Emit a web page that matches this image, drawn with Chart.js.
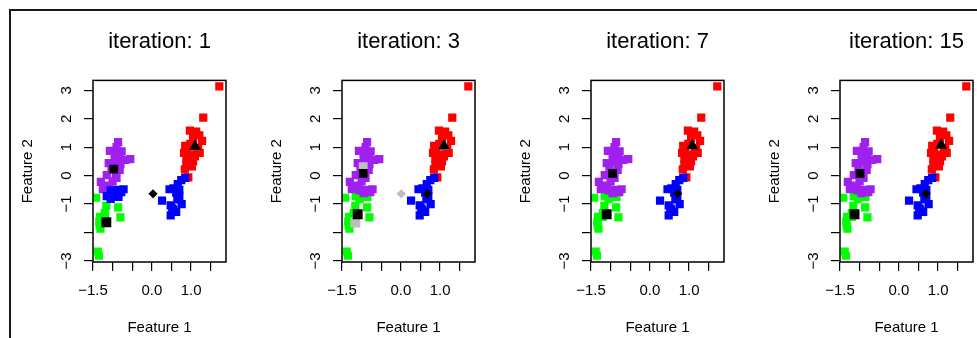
<!DOCTYPE html>
<html>
<head>
<meta charset="utf-8">
<script src="https://cdn.jsdelivr.net/npm/chart.js@4.4.1/dist/chart.umd.min.js"></script>
<style>
    html, body { margin: 0; padding: 0; background: #fff; overflow: hidden; width: 977px; height: 338px; }
    #frame { position: absolute; left: 9px; top: 9px; width: 1000px; height: 400px; border: 2px solid #1a1a1a; }
    .panel { position: absolute; top: 0; width: 249px; height: 338px; }
</style>
</head>
<body>
<div id="frame"></div>
<div class="panel" style="left:0px"><canvas id="c0" width="249" height="338"></canvas></div>
<div class="panel" style="left:249px"><canvas id="c1" width="249" height="338"></canvas></div>
<div class="panel" style="left:498px"><canvas id="c2" width="249" height="338"></canvas></div>
<div class="panel" style="left:747px"><canvas id="c3" width="249" height="338"></canvas></div>
<script>
// 패널 제목에 쓰이는 반복 횟수
const iterations = [1, 3, 7, 15];

// 데이터 점 좌표 (모든 패널 공통)
const featureX = [
    // red group
    1.72, 1.31, 0.97, 1.13, 1.21, 1.28, 1.05, 0.85, 0.98, 1.18, 1.22, 0.82, 0.96, 1.10, 0.88, 1.05, 0.92, 1.02, 0.84, 0.88, 0.93, 1.15, 0.90,
    // right blue group
    0.85, 0.75, 0.66, 0.55, 0.45, 0.70, 0.62, 0.70, 0.65, 0.76, 0.26, 0.48, 0.55, 0.62, 0.48, 0.52,
    // purple group
    -0.86, -0.90, -1.07, -0.77, -0.95, -0.82, -0.55, -0.68, -0.94, -1.10, -0.80, -0.82, -1.03, -0.92, -1.15, -0.90, -1.00, -1.30, -1.18, -1.25, -1.08,
    // lower left (blue at iteration 1)
    -0.72, -0.88, -0.78, -1.05, -1.15, -1.00, -0.85, -1.05, -0.95,
    // green group
    -1.42, -1.16, -0.86, -0.80, -1.32, -1.34, -1.31, -1.20, -1.38, -1.35, -1.33, -1.20
];
const featureY = [
    3.14, 2.04, 1.58, 1.55, 1.42, 1.22, 1.32, 1.05, 1.12, 0.98, 0.80, 0.80, 0.74, 0.68, 0.60, 0.50, 0.45, 0.32, 0.22, 0.38, -0.06, 0.85, 0.90,
    -0.08, -0.16, -0.30, -0.45, -0.48, -0.50, -0.60, -0.72, -0.84, -1.00, -0.88, -1.05, -1.20, -1.28, -1.40, -1.15,
    1.18, 1.00, 0.87, 0.85, 0.75, 0.65, 0.58, 0.55, 0.50, 0.44, 0.40, 0.20, 0.30, 0.08, 0.02, -0.08, -0.20, -0.22, -0.35, -0.48, -0.40,
    -0.48, -0.50, -0.58, -0.52, -0.72, -0.70, -0.75, -0.82, -0.62,
    -0.78, -1.06, -1.12, -1.47, -1.45, -1.62, -1.87, -1.32, -2.67, -2.82, -1.75, -1.45
];

// 군집 번호: 0 green, 1 purple, 2 blue, 3 red
const clusterIter1 = [
    3, 3, 3, 3, 3, 3, 3, 3, 3, 3, 3, 3, 3, 3, 3, 3, 3, 3, 3, 3, 3, 3, 3,
    2, 2, 2, 2, 2, 2, 2, 2, 2, 2, 2, 2, 2, 2, 2, 2,
    1, 1, 1, 1, 1, 1, 1, 1, 1, 1, 1, 1, 1, 1, 1, 1, 1, 1, 1, 1, 1,
    2, 2, 2, 2, 2, 2, 2, 2, 2,
    0, 0, 0, 0, 0, 0, 0, 0, 0, 0, 0, 0
];
const clusterIter3 = [
    3, 3, 3, 3, 3, 3, 3, 3, 3, 3, 3, 3, 3, 3, 3, 3, 3, 3, 3, 3, 3, 3, 3,
    2, 2, 2, 2, 2, 2, 2, 2, 2, 2, 2, 2, 2, 2, 2, 2,
    1, 1, 1, 1, 1, 1, 1, 1, 1, 1, 1, 1, 1, 1, 1, 1, 1, 1, 1, 1, 1,
    1, 1, 1, 1, 0, 0, 0, 0, 1,
    0, 0, 0, 0, 0, 0, 0, 0, 0, 0, 0, 0
];
const clusterIter7 = [
    3, 3, 3, 3, 3, 3, 3, 3, 3, 3, 3, 3, 3, 3, 3, 3, 3, 3, 3, 3, 3, 3, 3,
    2, 2, 2, 2, 2, 2, 2, 2, 2, 2, 2, 2, 2, 2, 2, 2,
    1, 1, 1, 1, 1, 1, 1, 1, 1, 1, 1, 1, 1, 1, 1, 1, 1, 1, 1, 1, 1,
    1, 1, 1, 1, 0, 0, 0, 0, 1,
    0, 0, 0, 0, 0, 0, 0, 0, 0, 0, 0, 0
];
const clusterIter15 = [
    3, 3, 3, 3, 3, 3, 3, 3, 3, 3, 3, 3, 3, 3, 3, 3, 3, 3, 3, 3, 3, 3, 3,
    2, 2, 2, 2, 2, 2, 2, 2, 2, 2, 2, 2, 2, 2, 2, 2,
    1, 1, 1, 1, 1, 1, 1, 1, 1, 1, 1, 1, 1, 1, 1, 1, 1, 1, 1, 1, 1,
    1, 1, 1, 1, 0, 0, 0, 0, 1,
    0, 0, 0, 0, 0, 0, 0, 0, 0, 0, 0, 0
];

// 중심점 좌표 (green, purple, blue, red 순서)
const centerXIter1 = [-1.16, -0.97, 0.03, 1.10];
const centerYIter1 = [-1.64, 0.23, -0.64, 1.02];
const centerXIter3 = [-1.10, -0.96, 0.67, 1.10];
const centerYIter3 = [-1.36, 0.08, -0.64, 1.04];
const centerXIter7 = [-1.10, -0.95, 0.71, 1.08];
const centerYIter7 = [-1.36, 0.08, -0.64, 1.05];
const centerXIter15 = [-1.13, -0.99, 0.69, 1.08];
const centerYIter15 = [-1.36, 0.08, -0.64, 1.07];

// iteration 3 패널의 이전 중심점 (회색)
const prevCenterXIter3 = [-1.16, -0.96, 0.01, 1.10];
const prevCenterYIter3 = [-1.65, 0.32, -0.64, 1.02];

// 축 눈금
const xTicks = [-1.5, -1.0, -0.5, 0.0, 0.5, 1.0, 1.5];
const xTickLabels = ['\u22121.5', '', '', '0.0', '', '1.0', ''];
const yTicks = [-3, -2, -1, 0, 1, 2, 3];
const yTickLabels = ['\u22123', '', '\u22121', '0', '1', '2', '3'];

const clusterColors = ['#00FF00', '#A020F0', '#0000FF', '#FF0000'];
const centerStyles = ['rect', 'rect', 'rectRot', 'triangle'];
const centerSizes = [7, 6.2, 4.6, 7];
const FONT = '"Liberation Sans", Arial, Helvetica, sans-serif';

const panels = [
    { clusters: clusterIter1, cx: centerXIter1, cy: centerYIter1, px: null, py: null },
    { clusters: clusterIter3, cx: centerXIter3, cy: centerYIter3, px: prevCenterXIter3, py: prevCenterYIter3 },
    { clusters: clusterIter7, cx: centerXIter7, cy: centerYIter7, px: null, py: null },
    { clusters: clusterIter15, cx: centerXIter15, cy: centerYIter15, px: null, py: null }
];

// 플롯 영역 테두리 그리기
const boxPlugin = {
    id: 'plotBox',
    afterDraw(chart) {
        const { ctx, chartArea } = chart;
        ctx.save();
        ctx.strokeStyle = '#000';
        ctx.lineWidth = 1.5;
        ctx.strokeRect(chartArea.left, chartArea.top, chartArea.right - chartArea.left, chartArea.bottom - chartArea.top);
        ctx.restore();
    }
};

function toPoints(xs, ys) {
    return xs.map((x, i) => ({ x: x, y: ys[i] }));
}

function buildDatasets(panel) {
    const datasets = [];

    // 검은 중심점 (맨 위)
    datasets.push({
        data: toPoints(panel.cx, panel.cy),
        pointStyle: centerStyles,
        pointRadius: centerSizes,
        backgroundColor: '#000',
        borderColor: '#000',
        borderWidth: 0
    });

    // 이전 중심점 (회색)
    if (panel.px) {
        datasets.push({
            data: toPoints(panel.px, panel.py),
            pointStyle: centerStyles,
            pointRadius: centerSizes,
            backgroundColor: '#BEBEBE',
            borderColor: '#BEBEBE',
            borderWidth: 0
        });
    }

    // 군집별 점
    [2, 3, 1, 0].forEach(k => {
        const xs = [], ys = [];
        panel.clusters.forEach((c, i) => {
            if (c === k) { xs.push(featureX[i]); ys.push(featureY[i]); }
        });
        datasets.push({
            data: toPoints(xs, ys),
            pointStyle: 'rect',
            pointRadius: 5.8,
            backgroundColor: clusterColors[k],
            borderColor: clusterColors[k],
            borderWidth: 0
        });
    });
    return datasets;
}

function renderPanel(idx) {
    const ctx = document.getElementById('c' + idx).getContext('2d');
    new Chart(ctx, {
        type: 'scatter',
        data: { datasets: buildDatasets(panels[idx]) },
        options: {
            responsive: false,
            animation: false,
            layout: { padding: { left: 0, right: 23, top: 0, bottom: 0 } },
            scales: {
                x: {
                    type: 'linear',
                    min: -1.5,
                    max: 1.89,
                    afterBuildTicks: scale => { scale.ticks = xTicks.map(v => ({ value: v })); },
                    afterFit: scale => { scale.height = 76; },
                    grid: { drawOnChartArea: false, drawTicks: true, tickLength: 9, color: '#000', lineWidth: 1.2 },
                    border: { display: false },
                    ticks: {
                        autoSkip: false,
                        maxRotation: 0,
                        padding: 11,
                        color: '#000',
                        font: { family: FONT, size: 15 },
                        callback: (value, index) => xTickLabels[index]
                    },
                    title: {
                        display: true,
                        text: 'Feature 1',
                        color: '#000',
                        font: { family: FONT, size: 15 },
                        padding: { top: 0, bottom: 1 }
                    }
                },
                y: {
                    type: 'linear',
                    min: -3.04,
                    max: 3.35,
                    afterBuildTicks: scale => { scale.ticks = yTicks.map(v => ({ value: v })); },
                    afterFit: scale => { scale.width = 93; },
                    grid: { drawOnChartArea: false, drawTicks: true, tickLength: 9, color: '#000', lineWidth: 1.2 },
                    border: { display: false },
                    ticks: {
                        autoSkip: false,
                        minRotation: 90,
                        maxRotation: 90,
                        crossAlign: 'center',
                        padding: 9,
                        color: '#000',
                        font: { family: FONT, size: 15 },
                        callback: (value, index) => yTickLabels[index]
                    },
                    title: {
                        display: true,
                        text: 'Feature 2',
                        color: '#000',
                        font: { family: FONT, size: 15 },
                        padding: { top: 19, bottom: 0 }
                    }
                }
            },
            plugins: {
                legend: { display: false },
                tooltip: { enabled: false },
                title: {
                    display: true,
                    text: 'iteration: ' + iterations[idx],
                    fullSize: false,
                    color: '#000',
                    font: { family: FONT, size: 22, weight: 'normal' },
                    padding: { top: 29, bottom: 25 }
                }
            }
        },
        plugins: [boxPlugin]
    });
}

document.addEventListener('DOMContentLoaded', function() {
    for (let i = 0; i < panels.length; i++) {
        renderPanel(i);
    }
});
</script>
</body>
</html>
